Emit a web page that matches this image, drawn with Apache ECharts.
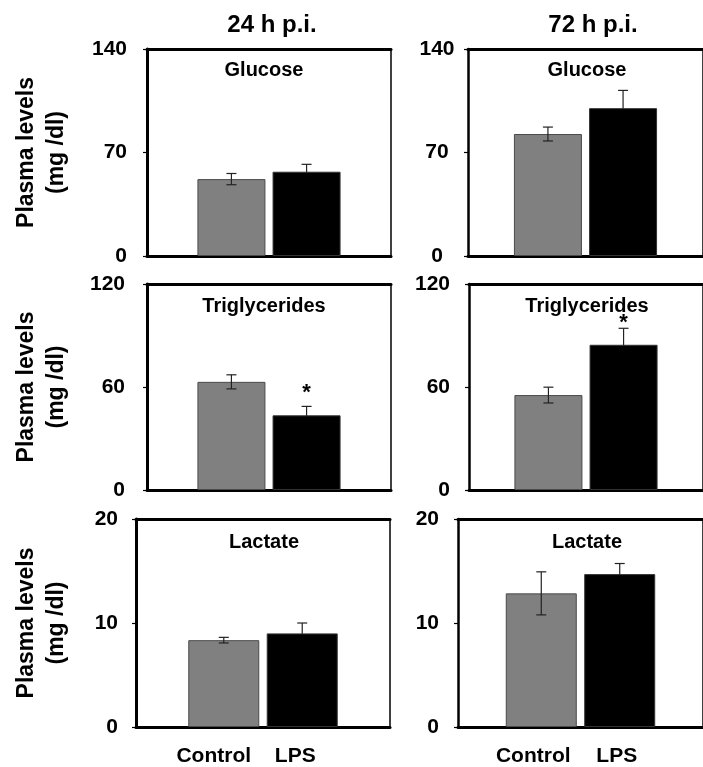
<!DOCTYPE html>
<html><head><meta charset="utf-8">
<script src="https://cdn.jsdelivr.net/npm/echarts@6/dist/echarts.min.js"></script>
<style>html,body{margin:0;padding:0;background:#fff}#c{width:703px;height:767px}</style>
</head><body><div id="c"></div><script>
// ---------------- data ----------------
const groups = ['Control', 'LPS'];
const timepoints = ['24 h p.i.', '72 h p.i.'];
const metabolites = ['Glucose', 'Triglycerides', 'Lactate'];
const axisMax = [140, 120, 20];
const axisInterval = [70, 60, 10];
const yAxisTitle = 'Plasma levels\n(mg /dl)';

const glucose24 = [52, 57];
const glucose24Err = [3.8, 5];
const glucose72 = [82.5, 100];
const glucose72Err = [4.7, 12];
const triglycerides24 = [63, 43.5];
const triglycerides24Err = [4.1, 5.2];
const triglycerides72 = [55.3, 84.6];
const triglycerides72Err = [4.6, 9.6];
const lactate24 = [8.35, 9.0];
const lactate24Err = [0.27, 1.0];
const lactate72 = [12.85, 14.7];
const lactate72Err = [2.07, 1.02];
// significance marks (position of '*' on the y scale)
const glucose24Star = [null, null];
const glucose72Star = [null, null];
const triglycerides24Star = [null, 57.3];
const triglycerides72Star = [null, 98];
const lactate24Star = [null, null];
const lactate72Star = [null, null];

// ---------------- layout / style ----------------
const FONT = '"Liberation Sans", Arial, Helvetica, sans-serif';
const values = [[glucose24, glucose72], [triglycerides24, triglycerides72], [lactate24, lactate72]];
const errors = [[glucose24Err, glucose72Err], [triglycerides24Err, triglycerides72Err], [lactate24Err, lactate72Err]];
const stars = [[glucose24Star, glucose72Star], [triglycerides24Star, triglycerides72Star], [lactate24Star, lactate72Star]];

const layout = [
  [ {left:147, right:312, top:49, height:207, bw:68, lblAlign:'right', lblMargin:20, nameGap:75, axisW:3},
    {left:468, right:-14, top:49, height:207, bw:68, lblAlign:'center', lblMargin:31, axisW:2.5} ],
  [ {left:147, right:312, top:284, height:206, bw:68, lblAlign:'right', lblMargin:22, nameGap:75, axisW:3},
    {left:469, right:-14, top:284, height:206, bw:68, lblAlign:'right', lblMargin:19, axisW:2.5} ],
  [ {left:136, right:313, top:519, height:208, bw:71, lblAlign:'right', lblMargin:18, nameGap:64, axisW:3, catDx:[-10,-7]},
    {left:458, right:-12, top:519, height:208, bw:71, lblAlign:'right', lblMargin:19, axisW:2.5, catDx:[-8,-3]} ]
];
const GAP = 0.105;

function makeErrorRender(bw) {
  const half = bw * (1 + GAP) / 2;
  return function (params, api) {
    const s = api.value(3);
    const v = api.value(1), e = api.value(2), star = api.value(4);
    const cx = api.coord([0, v])[0] + (s === 0 ? -half : half);
    const yT = api.coord([0, v + e])[1];
    const yB = api.coord([0, v - e])[1];
    const st = {stroke: '#222', lineWidth: 1.2};
    const children = [
      {type:'line', shape:{x1:cx, y1:yT, x2:cx, y2:yB}, style:st},
      {type:'line', shape:{x1:cx-5, y1:yT, x2:cx+5, y2:yT}, style:st},
      {type:'line', shape:{x1:cx-5, y1:yB, x2:cx+5, y2:yB}, style:st}
    ];
    if (star != null && !isNaN(star)) {
      children.push({type:'text', x:cx, y:api.coord([0, star])[1] + 1,
        style:{text:'*', font:'bold 22px ' + FONT, fill:'#000', align:'center', verticalAlign:'middle'}});
    }
    return {type:'group', children};
  };
}

const grid = [], xAxis = [], yAxis = [], series = [], title = [];

title.push({text: timepoints[0], left: 267, top: 8, textAlign: 'center',
  textStyle: {fontFamily: FONT, fontWeight: 'bold', fontSize: 24, color: '#000'}});
title.push({text: timepoints[1], left: 588, top: 8, textAlign: 'center',
  textStyle: {fontFamily: FONT, fontWeight: 'bold', fontSize: 24, color: '#000'}});

const titleTops = [55, 291, 527];
const titleX = [259, 582];

for (let r = 0; r < 3; r++) {
  for (let c = 0; c < 2; c++) {
    const L = layout[r][c];
    const gi = grid.length;
    grid.push({left: L.left, right: L.right, top: L.top, height: L.height, containLabel: false});
    title.push({text: metabolites[r], left: titleX[c], top: titleTops[r], textAlign: 'center',
      textStyle: {fontFamily: FONT, fontWeight: 'bold', fontSize: 20, color: '#000'}});
    // bottom & top x axes
    xAxis.push({type:'category', gridIndex: gi, data: [''], position: 'bottom',
      axisLine: {show: true, onZero: false, lineStyle: {color: '#000', width: 3}}, axisTick: {show: false}, axisLabel: {show: false}});
    xAxis.push({type:'category', gridIndex: gi, data: [''], position: 'top',
      axisLine: {show: true, onZero: false, lineStyle: {color: '#000', width: 3}}, axisTick: {show: false}, axisLabel: {show: false}});
    // left & right y axes
    const yl = {type:'value', gridIndex: gi, position: 'left', min: 0, max: axisMax[r], interval: axisInterval[r],
      axisLine: {show: true, onZero: false, lineStyle: {color: '#000', width: L.axisW}},
      axisTick: {show: true, inside: false, length: 4, lineStyle: {color: '#000', width: 1.2}},
      splitLine: {show: false},
      axisLabel: {show: true, margin: L.lblMargin, align: L.lblAlign, fontFamily: FONT, fontWeight: 'bold', fontSize: 21, color: '#000'}};
    if (c === 0) {
      yl.name = yAxisTitle;
      yl.nameLocation = 'middle';
      yl.nameRotate = 90;
      yl.nameGap = L.nameGap;
      yl.nameTextStyle = {fontFamily: FONT, fontWeight: 'bold', fontSize: 23, lineHeight: 30, color: '#000'};
    }
    yAxis.push(yl);
    yAxis.push({type:'value', gridIndex: gi, position: 'right', min: 0, max: axisMax[r], interval: axisInterval[r],
      axisLine: {show: true, onZero: false, lineStyle: {color: '#000', width: 1.5}}, axisTick: {show: false},
      axisLabel: {show: false}, splitLine: {show: false}});

    const vals = values[r][c], errs = errors[r][c], st = stars[r][c];
    const barColors = ['#808080', '#000000'];
    const barBorders = ['#4a4a4a', '#333333'];
    const zs = [2, 4];
    for (let s = 0; s < 2; s++) {
      const ser = {type: 'bar', name: groups[s], xAxisIndex: 2*gi, yAxisIndex: 2*gi,
        data: [vals[s]], barWidth: L.bw, barGap: (GAP*100) + '%', z: zs[s], silent: true,
        itemStyle: {color: barColors[s], borderColor: barBorders[s], borderWidth: 1}};
      if (L.catDx) {
        ser.label = {show: true, position: 'bottom', distance: 19, offset: [L.catDx[s], 0],
          formatter: groups[s], fontFamily: FONT, fontWeight: 'bold', fontSize: 21, color: '#000'};
      }
      series.push(ser);
    }
    series.push({type: 'custom', xAxisIndex: 2*gi, yAxisIndex: 2*gi, z: 3, silent: true,
      renderItem: makeErrorRender(L.bw),
      data: [0, 1].map(s => [0, vals[s], errs[s], s, st[s]])});
  }
}

const chart = echarts.init(document.getElementById('c'), null, {renderer: 'canvas'});
chart.setOption({animation: false, backgroundColor: '#fff', title, grid, xAxis, yAxis, series});
</script></body></html>
